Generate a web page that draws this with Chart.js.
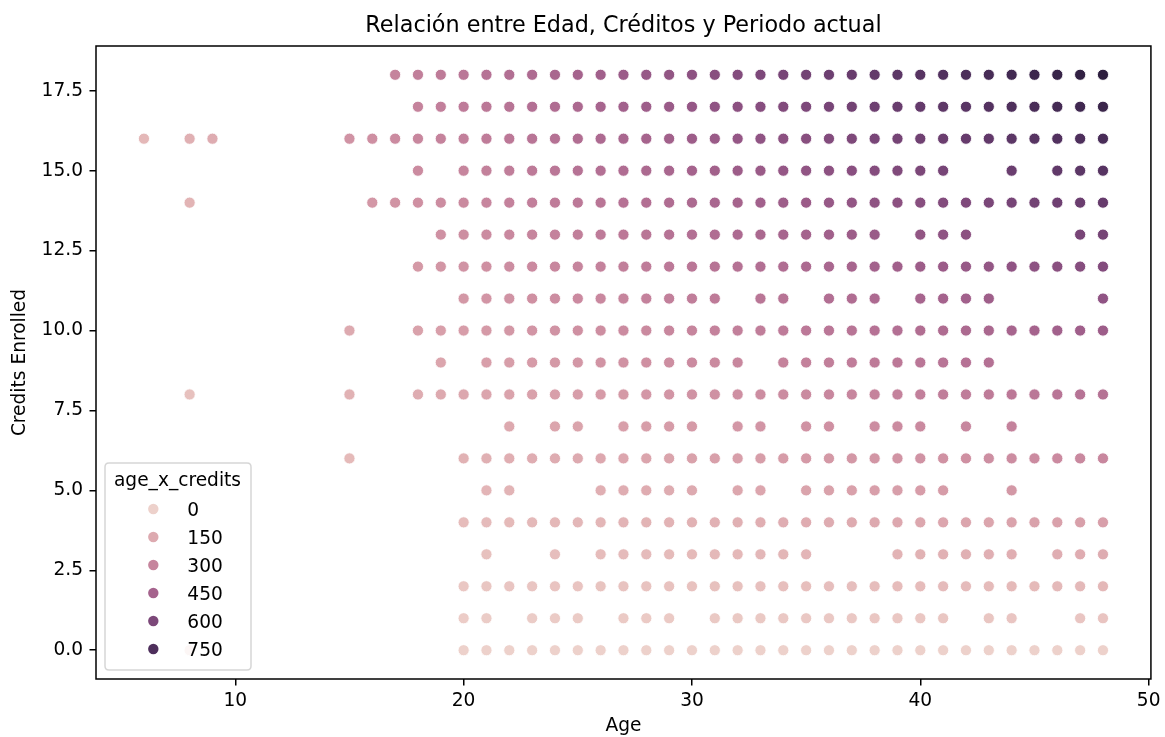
<!DOCTYPE html>
<html><head><meta charset="utf-8">
<script src="https://cdn.jsdelivr.net/npm/chart.js@4.4.0/dist/chart.umd.min.js"></script>
<style>html,body{margin:0;padding:0;background:#fff;}canvas{display:block;}</style>
</head><body>
<canvas id="c" width="1165" height="737"></canvas>
<script>
const chartTitle = "Relación entre Edad, Créditos y Periodo actual";
const xAxisLabel = "Age";
const yAxisLabel = "Credits Enrolled";
const legendTitle = "age_x_credits";
const legendValues = [0, 150, 300, 450, 600, 750];
const xTickValues = [10, 20, 30, 40, 50];
const yTickValues = [0, 2.5, 5, 7.5, 10, 12.5, 15, 17.5];

// ages observed at each credits level (credits 0 .. 18)
const agesCredits0  = [8,20,21,22,23,24,25,26,27,28,29,30,31,32,33,34,35,36,37,38,39,40,41,42,43,44,45,46,47,48];
const agesCredits1  = [20,21,23,24,25,27,28,29,31,32,33,34,35,36,37,38,39,40,41,43,44,47,48];
const agesCredits2  = [20,21,22,23,24,25,26,27,28,29,30,31,32,33,34,35,36,37,38,39,40,41,42,43,44,45,46,47,48];
const agesCredits3  = [21,24,26,27,28,29,30,31,32,33,34,35,39,40,41,42,43,44,46,47,48];
const agesCredits4  = [20,21,22,23,24,25,26,27,28,29,30,31,32,33,34,35,36,37,38,39,40,41,42,43,44,45,46,47,48];
const agesCredits5  = [21,22,26,27,28,29,30,32,33,35,36,37,38,39,40,41,44];
const agesCredits6  = [15,20,21,22,23,24,25,26,27,28,29,30,31,32,33,34,35,36,37,38,39,40,41,42,43,44,45,46,47,48];
const agesCredits7  = [22,24,25,27,28,29,30,32,33,35,36,38,39,40,42,44];
const agesCredits8  = [8,15,18,19,20,21,22,23,24,25,26,27,28,29,30,31,32,33,34,35,36,37,38,39,40,41,42,43,44,45,46,47,48];
const agesCredits9  = [19,21,22,23,24,25,26,27,28,29,30,31,32,34,35,36,37,38,39,40,41,42,43];
const agesCredits10 = [15,18,19,20,21,22,23,24,25,26,27,28,29,30,31,32,33,34,35,36,37,38,39,40,41,42,43,44,45,46,47,48];
const agesCredits11 = [20,21,22,23,24,25,26,27,28,29,30,31,33,34,36,37,38,40,41,42,43,48];
const agesCredits12 = [18,19,20,21,22,23,24,25,26,27,28,29,30,31,32,33,34,35,36,37,38,39,40,41,42,43,44,45,46,47,48];
const agesCredits13 = [19,20,21,22,23,24,25,26,27,28,29,30,31,32,33,34,35,36,37,38,40,41,42,47,48];
const agesCredits14 = [8,16,17,18,19,20,21,22,23,24,25,26,27,28,29,30,31,32,33,34,35,36,37,38,39,40,41,42,43,44,45,46,47,48];
const agesCredits15 = [18,20,21,22,23,24,25,26,27,28,29,30,31,32,33,34,35,36,37,38,39,40,41,44,46,47,48];
const agesCredits16 = [6,8,9,15,16,17,18,19,20,21,22,23,24,25,26,27,28,29,30,31,32,33,34,35,36,37,38,39,40,41,42,43,44,45,46,47,48];
const agesCredits17 = [18,19,20,21,22,23,24,25,26,27,28,29,30,31,32,33,34,35,36,37,38,39,40,41,42,43,44,45,46,47,48];
const agesCredits18 = [17,18,19,20,21,22,23,24,25,26,27,28,29,30,31,32,33,34,35,36,37,38,39,40,41,42,43,44,45,46,47,48];
const creditLevels = [0,1,2,3,4,5,6,7,8,9,10,11,12,13,14,15,16,17,18];
const agesByCredits = [agesCredits0, agesCredits1, agesCredits2, agesCredits3, agesCredits4, agesCredits5,
  agesCredits6, agesCredits7, agesCredits8, agesCredits9, agesCredits10, agesCredits11, agesCredits12,
  agesCredits13, agesCredits14, agesCredits15, agesCredits16, agesCredits17, agesCredits18];

const points = [];
creditLevels.forEach((c, i) => agesByCredits[i].forEach(a => points.push({x: a, y: c})));
const hueVals = points.map(p => p.x * p.y);
const hueMin = Math.min(...hueVals), hueMax = Math.max(...hueVals);

// seaborn default cubehelix colormap
function cubehelixColor(v) {
  let t = (v - hueMin) / (hueMax - hueMin);
  const idx = Math.min(255, Math.max(0, Math.floor(t * 256)));
  const x = 0.85 + (0.15 - 0.85) * idx / 255;
  const xg = x, a = 0.8 * xg * (1 - xg) / 2, phi = 2 * Math.PI * (0 / 3 + 0.4 * x);
  const f = (p0, p1) => Math.round(255 * Math.min(1, Math.max(0, xg + a * (p0 * Math.cos(phi) + p1 * Math.sin(phi)))));
  return `rgb(${f(-0.14861, 1.78277)},${f(-0.29227, -0.90649)},${f(1.97294, 0)})`;
}

const FONT = "'DejaVu Sans', sans-serif";
Chart.defaults.font.family = FONT;
Chart.defaults.color = '#000';

const framePlugin = {
  id: 'frame',
  afterDatasetsDraw(chart) {
    const {ctx, chartArea: ca} = chart;
    ctx.save();
    ctx.strokeStyle = '#000';
    ctx.lineWidth = 1.5;
    ctx.strokeRect(ca.left, ca.top, ca.right - ca.left, ca.bottom - ca.top);
    ctx.restore();
  }
};

const legendPlugin = {
  id: 'hueLegend',
  afterDraw(chart) {
    const {ctx, chartArea: ca} = chart;
    const L = ca.left + 9, T = 463, W = 146, H = 207, r = 4;
    ctx.save();
    ctx.beginPath();
    ctx.moveTo(L + r, T); ctx.lineTo(L + W - r, T); ctx.quadraticCurveTo(L + W, T, L + W, T + r);
    ctx.lineTo(L + W, T + H - r); ctx.quadraticCurveTo(L + W, T + H, L + W - r, T + H);
    ctx.lineTo(L + r, T + H); ctx.quadraticCurveTo(L, T + H, L, T + H - r);
    ctx.lineTo(L, T + r); ctx.quadraticCurveTo(L, T, L + r, T);
    ctx.closePath();
    ctx.fillStyle = 'rgba(255,255,255,0.8)';
    ctx.fill();
    ctx.strokeStyle = 'rgba(204,204,204,0.8)';
    ctx.lineWidth = 1.5;
    ctx.stroke();
    ctx.font = `18.6px ${FONT}`;
    ctx.fillStyle = '#000';
    ctx.textAlign = 'center';
    ctx.textBaseline = 'alphabetic';
    ctx.fillText(legendTitle, L + 72.5, 485.7);
    ctx.textAlign = 'left';
    legendValues.forEach((v, i) => {
      const cy = 509 + i * 28;
      ctx.beginPath();
      ctx.arc(L + 48.3, cy, 5.2, 0, Math.PI * 2);
      ctx.fillStyle = cubehelixColor(v);
      ctx.fill();
      ctx.fillStyle = '#000';
      ctx.fillText(String(v), L + 82.3, cy + 6.8);
    });
    ctx.restore();
  }
};

new Chart(document.getElementById('c'), {
  type: 'scatter',
  data: {
    datasets: [{
      data: points,
      backgroundColor: (c) => c.raw ? cubehelixColor(c.raw.x * c.raw.y) : '#000',
      borderColor: '#fff',
      borderWidth: 0.9,
      pointRadius: 5.6,
      pointHoverRadius: 5.6
    }]
  },
  options: {
    responsive: false,
    animation: false,
    devicePixelRatio: 1,
    layout: {padding: {left: 0, right: 11, top: 0, bottom: 0}},
    plugins: {
      legend: {display: false},
      tooltip: {enabled: false},
      title: {
        display: true, text: chartTitle, color: '#000', fullSize: false,
        font: {size: 22.3, weight: 'normal', family: FONT, lineHeight: 1.2},
        padding: {top: 12.4, bottom: 6.84}
      }
    },
    scales: {
      x: {
        type: 'linear', min: 3.9, max: 50.1,
        afterFit: (s) => { s.height = 58; },
        afterBuildTicks: (s) => { s.ticks = xTickValues.map(v => ({value: v})); },
        ticks: {font: {size: 18.6}, padding: 4.5, color: '#000', maxRotation: 0, callback: (v) => String(v)},
        grid: {display: true, drawOnChartArea: false, drawTicks: true, tickLength: 6.5, color: '#000', lineWidth: 1.5},
        border: {display: false},
        title: {display: true, text: xAxisLabel, font: {size: 18.6}, color: '#000', padding: {top: 0, bottom: 0}}
      },
      y: {
        type: 'linear', min: -0.9, max: 18.9,
        afterFit: (s) => { s.width = 96; },
        afterBuildTicks: (s) => { s.ticks = yTickValues.map(v => ({value: v})); },
        ticks: {font: {size: 18.6}, padding: 6.5, color: '#000', callback: (v) => Number(v).toFixed(1)},
        grid: {display: true, drawOnChartArea: false, drawTicks: true, tickLength: 6.5, color: '#000', lineWidth: 1.5},
        border: {display: false},
        title: {display: true, text: yAxisLabel, font: {size: 18.6}, color: '#000', padding: {top: 8.8, bottom: 0}}
      }
    }
  },
  plugins: [framePlugin, legendPlugin]
});
</script>
</body></html>
